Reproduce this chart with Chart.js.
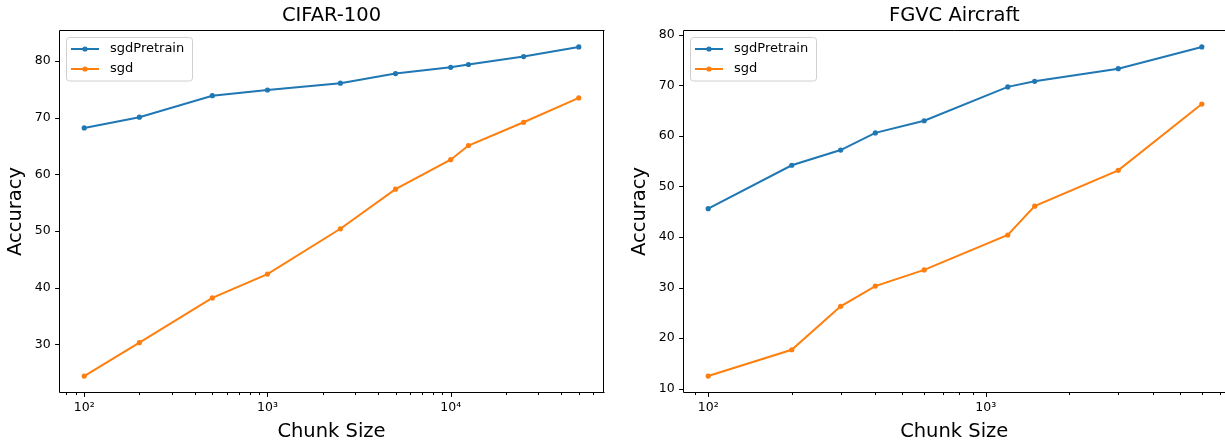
<!DOCTYPE html>
<html>
<head>
<meta charset="utf-8">
<script src="https://cdn.jsdelivr.net/npm/chart.js@4.4.0/dist/chart.umd.min.js"></script>
<style>
  html, body { margin: 0; padding: 0; background: #fff; width: 1225px; height: 444px; overflow: hidden; }
  canvas { position: absolute; top: 0; }
  #cifar { left: 0; }
  #aircraft { left: 624px; }
</style>
</head>
<body>
<canvas id="cifar" width="620" height="444"></canvas>
<canvas id="aircraft" width="601" height="444"></canvas>
<script>
const seriesNames = ['sgdPretrain', 'sgd'];
const seriesColors = ['#1f77b4', '#ff7f0e'];

const cifarSizes = [100, 200, 500, 1000, 2500, 5000, 10000, 12500, 25000, 50000];
const cifarPretrain = [68.2, 70.1, 73.9, 74.9, 76.1, 77.8, 78.9, 79.4, 80.8, 82.5];
const cifarSgd = [24.4, 30.3, 38.2, 42.4, 50.4, 57.4, 62.6, 65.1, 69.2, 73.5];
const cifarYTicks = [30, 40, 50, 60, 70, 80];

const aircraftSizes = [100, 200, 300, 400, 600, 1200, 1500, 3000, 6000];
const aircraftPretrain = [45.6, 54.2, 57.2, 60.6, 63.0, 69.7, 70.8, 73.3, 77.6];
const aircraftSgd = [12.5, 17.7, 26.3, 30.3, 33.5, 40.4, 46.1, 53.2, 66.3];
const aircraftYTicks = [10, 20, 30, 40, 50, 60, 70, 80];

const FONT = "'DejaVu Sans', sans-serif";
Chart.defaults.font.family = FONT;
Chart.defaults.color = '#000';

const SUP = { '0': '⁰', '1': '¹', '2': '²', '3': '³', '4': '⁴', '5': '⁵' };

// matplotlib-style 5% margins; keep = visible share of the axis (right panel is cropped)
function logLimits(xs, keep) {
  const a = Math.log10(Math.min(...xs)), b = Math.log10(Math.max(...xs)), m = (b - a) * 0.05;
  const lo = a - m, hi = b + m;
  return [10 ** lo, 10 ** (lo + (hi - lo) * keep)];
}
function linLimits(...arrs) {
  const all = arrs.flat(), a = Math.min(...all), b = Math.max(...all), m = (b - a) * 0.05;
  return [a - m, b + m];
}

// frame + tick marks like matplotlib
const framePlugin = {
  id: 'frame',
  afterDraw(chart, args, opts) {
    const { ctx, chartArea: a, scales: { x, y } } = chart;
    ctx.save();
    ctx.strokeStyle = '#000';
    ctx.lineWidth = 1;
    ctx.beginPath();
    ctx.moveTo(a.right + 1, a.top);
    ctx.lineTo(a.left, a.top);
    ctx.lineTo(a.left, a.bottom);
    ctx.lineTo(a.right + 1, a.bottom);
    if (!opts.openRight) { ctx.moveTo(a.right, a.top); ctx.lineTo(a.right, a.bottom); }
    x.ticks.forEach(t => {
      const px = Math.round(x.getPixelForValue(t.value)) + 0.5;
      if (px < a.left - 0.1 || px > a.right + 0.6) return;
      ctx.moveTo(px, a.bottom);
      ctx.lineTo(px, a.bottom + (t.major ? 4.4 : 2.5));
    });
    y.ticks.forEach(t => {
      const py = Math.round(y.getPixelForValue(t.value)) + 0.5;
      ctx.moveTo(a.left, py);
      ctx.lineTo(a.left - 4.4, py);
    });
    ctx.stroke();
    ctx.restore();
  }
};

// legend box in the upper left corner of the axes
const boxLegend = {
  id: 'boxLegend',
  afterDraw(chart) {
    const { ctx, chartArea: a } = chart;
    const bx = a.left + 7, by = a.top + 7, bw = 126, bh = 43.5;
    ctx.save();
    ctx.beginPath();
    ctx.roundRect(bx, by, bw, bh, 3);
    ctx.fillStyle = 'rgba(255,255,255,0.8)';
    ctx.fill();
    ctx.strokeStyle = '#d0d0d0';
    ctx.lineWidth = 1;
    ctx.stroke();
    ctx.font = `13px ${FONT}`;
    ctx.textBaseline = 'middle';
    chart.data.datasets.forEach((ds, i) => {
      const cy = by + 11.5 + i * 20;
      ctx.strokeStyle = ds.borderColor;
      ctx.lineWidth = 2;
      ctx.beginPath();
      ctx.moveTo(bx + 4.5, cy);
      ctx.lineTo(bx + 32.5, cy);
      ctx.stroke();
      ctx.fillStyle = ds.borderColor;
      ctx.beginPath();
      ctx.arc(bx + 18.5, cy, 2.6, 0, Math.PI * 2);
      ctx.fill();
      ctx.fillStyle = '#000';
      ctx.fillText(ds.label, bx + 43.5, cy);
    });
    ctx.restore();
  }
};

function makeChart(id, title, sizes, series, yTicks, padRight, keep) {
  const [xmin, xmax] = logLimits(sizes, keep);
  const [ymin, ymax] = linLimits(...series);
  return new Chart(document.getElementById(id), {
    type: 'line',
    data: {
      datasets: series.map((vals, i) => ({
        label: seriesNames[i],
        data: sizes.map((s, j) => ({ x: s, y: vals[j] })),
        borderColor: seriesColors[i],
        backgroundColor: seriesColors[i],
        borderWidth: 2,
        pointRadius: 2.6,
        pointBorderWidth: 0,
        pointBackgroundColor: seriesColors[i],
        tension: 0,
        fill: false,
        clip: false
      }))
    },
    options: {
      responsive: false,
      animation: false,
      events: [],
      layout: { autoPadding: false, padding: { left: 0, top: 0, right: padRight, bottom: 0 } },
      plugins: {
        legend: { display: false },
        tooltip: { enabled: false },
        frame: { openRight: keep < 1 },
        title: {
          display: true, text: title, fullSize: false,
          font: { size: 19.5, weight: 'normal' }, color: '#000',
          padding: { top: 4, bottom: 3.1 }
        }
      },
      scales: {
        x: {
          type: 'logarithmic', min: xmin, max: xmax,
          grid: { display: false, drawTicks: true, tickLength: 4.4 },
          border: { display: false },
          afterBuildTicks: scale => {
            const ticks = [];
            for (let e = Math.floor(Math.log10(xmin)); e <= Math.ceil(Math.log10(xmax)); e++) {
              for (let k = 1; k <= 9; k++) {
                const v = k * 10 ** e;
                if (v >= xmin && v <= xmax) ticks.push({ value: v, major: k === 1 });
              }
            }
            scale.ticks = ticks;
          },
          afterFit: scale => { scale.height = 51.5; scale.paddingLeft = 0; scale.paddingRight = 0; },
          ticks: {
            autoSkip: false, maxRotation: 0, minRotation: 0, padding: 3.6,
            font: { size: 12.5 }, color: '#000',
            callback: function (v) {
              const e = Math.log10(v);
              return Math.abs(e - Math.round(e)) < 1e-9 ? '10' + String(Math.round(e)).split('').map(c => SUP[c]).join('') : '';
            }
          },
          title: { display: true, text: 'Chunk Size', font: { size: 19.5 }, color: '#000', padding: { top: 0, bottom: 0.8 } }
        },
        y: {
          min: ymin, max: ymax,
          grid: { display: false, drawTicks: true, tickLength: 4.4 },
          border: { display: false },
          afterBuildTicks: scale => { scale.ticks = yTicks.map(v => ({ value: v })); },
          afterFit: scale => { scale.width = 59.5; scale.paddingTop = 0; scale.paddingBottom = 0; },
          ticks: { padding: 4.4, font: { size: 12.5 }, color: '#000' },
          title: { display: true, text: 'Accuracy', font: { size: 19.5 }, color: '#000', padding: { top: 4.3, bottom: 0 } }
        }
      }
    },
    plugins: [framePlugin, boxLegend]
  });
}

makeChart('cifar', 'CIFAR-100', cifarSizes, [cifarPretrain, cifarSgd], cifarYTicks, 16.5, 1);
// the original is cropped just before the right spine of this panel: axis 683.5..1226.5, page ends at 1225
makeChart('aircraft', 'FGVC Aircraft', aircraftSizes, [aircraftPretrain, aircraftSgd], aircraftYTicks, 0, 541.5 / 543);
</script>
</body>
</html>
